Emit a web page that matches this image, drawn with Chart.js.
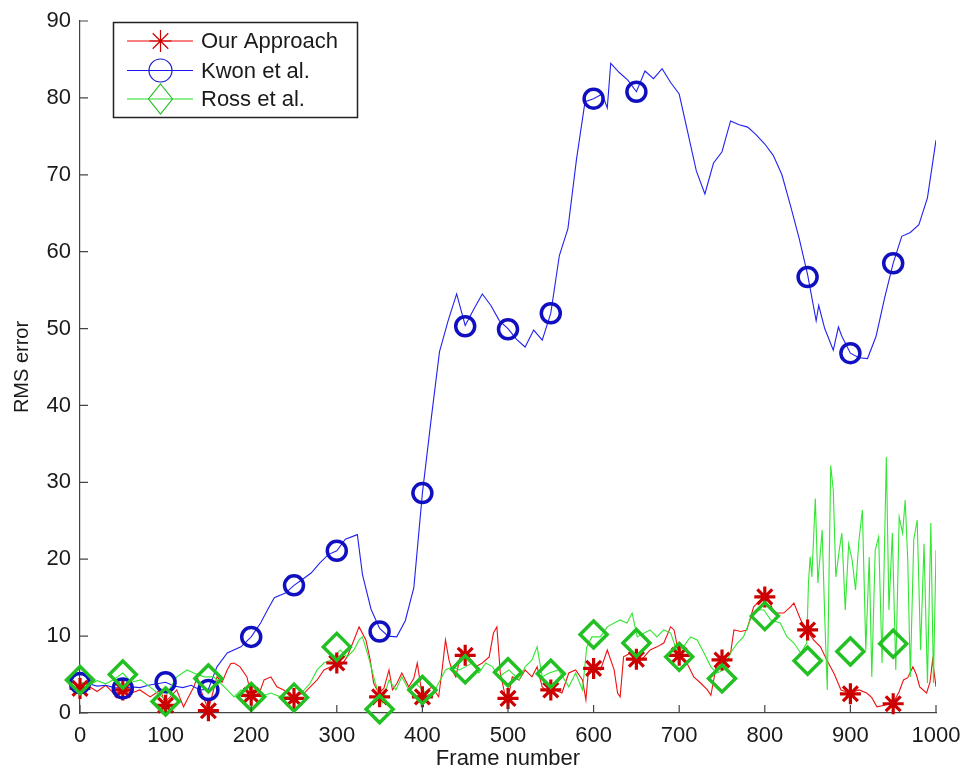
<!DOCTYPE html>
<html>
<head>
<meta charset="utf-8">
<script src="https://cdn.jsdelivr.net/npm/chart.js@4.4.0/dist/chart.umd.min.js"></script>
<style>
body{margin:0;background:#fff;}
canvas{display:block;}
</style>
</head>
<body>
<canvas id="rmsChart" width="963" height="772"></canvas>
<script>

// series (frame number -> RMS error)
let ourFrames = [0,10,20,30,40,50,60,70,82,94,100,102,113,121,125,133,137,141,150,160,166,172,176,180,187,195,200,203,209,215,223,230,238,245,250,256,262,269,277,285,293,300,304,312,320,326,334,339,343,349,355,361,365,370,376,384,390,394,400,405,411,419,423,427,431,435,439,446,450,454,462,470,478,483,487,491,497,500,505,513,520,528,534,540,548,550,555,563,571,579,587,591,594,600,608,616,624,628,631,635,643,651,659,666,674,682,690,694,700,709,717,725,733,737,744,752,760,764,772,779,787,795,803,811,822,830,834,842,849,857,865,872,881,889,900,910,919,925,931,940,950,957,962,967,973,977,981,989,993,996,1000];
let ourValues = [3.2,3.5,2.8,3.6,2.5,3.0,2.6,3.0,2.1,3.0,1.0,1.7,3.0,0.8,1.7,3.4,4.7,3.0,0.4,4.7,4.0,5.6,6.4,6.5,6.0,4.7,2.3,3.0,2.4,4.3,4.7,3.4,3.0,2.2,1.9,2.4,2.6,3.4,4.3,5.6,6.0,6.5,6.0,7.3,9.5,11.2,9.5,6.9,3.9,2.6,3.2,5.6,3.0,3.8,5.2,3.4,4.5,6.5,2.1,2.8,3.4,2.1,5.6,9.5,6.9,5.5,4.7,8.2,7.5,7.3,6.0,6.5,7.3,10.4,11.2,5.2,2.1,1.9,4.7,4.3,5.6,4.7,6.0,3.4,2.6,3.0,3.0,2.6,5.2,5.6,4.3,1.7,5.6,6.0,5.6,8.2,5.6,2.6,2.1,7.3,7.8,6.5,7.3,8.2,8.6,9.1,11.2,10.8,7.5,6.5,4.7,3.9,3.0,2.3,6.5,6.9,7.8,10.8,10.6,10.8,13.8,14.7,15.1,13.0,13.0,13.8,14.3,12.1,10.8,9.5,8.6,7.0,5.1,3.0,2.6,3.0,2.6,2.0,0.8,1.0,1.3,2.8,4.3,4.6,6.0,5.0,3.4,2.6,4.0,6.9,3.4];

let kwonFrames = [0,10,20,30,40,50,60,70,80,90,100,110,120,130,140,150,160,172,188,200,211,219,227,240,250,260,270,280,290,300,310,324,330,340,350,360,370,380,390,400,410,420,430,440,450,460,470,480,490,500,510,520,530,540,550,560,570,580,590,600,610,616,620,630,640,650,660,670,680,690,700,710,720,730,740,750,760,770,780,790,800,810,820,830,840,850,860,863,870,880,886,890,900,910,920,930,940,950,960,970,980,990,1000];
let kwonValues = [3.9,3.8,3.5,3.6,3.3,3.2,3.4,3.3,3.6,3.8,4.0,3.5,3.3,3.6,3.0,3.1,6.0,7.8,8.6,9.9,11.7,13.4,15.0,15.6,16.6,17.4,18.2,19.5,20.6,21.1,22.6,23.2,18.0,13.5,11.0,10.0,9.9,12.0,16.3,28.6,38.0,47.0,51.0,54.5,50.4,52.5,54.5,53.0,51.0,50.0,48.6,47.6,49.8,48.5,52.0,59.5,63.0,72.0,79.5,79.9,80.5,78.7,84.5,83.3,82.3,80.8,83.5,82.5,83.8,82.0,80.5,75.5,70.5,67.5,71.5,73.0,77.0,76.5,76.2,75.2,74.0,72.5,70.0,66.0,61.8,57.0,51.0,53.0,50.0,47.2,50.2,49.0,46.8,46.2,46.1,49.0,54.0,58.5,62.0,62.5,63.5,67.0,74.5];

let rossFrames = [0,10,20,30,40,50,60,71,86,100,102,113,125,133,145,150,156,164,172,180,188,195,203,211,223,234,250,262,269,277,285,293,304,312,320,326,330,337,345,353,361,369,376,384,392,400,411,419,427,435,443,450,458,466,474,482,489,501,513,520,528,534,540,548,559,571,579,587,592,598,608,616,624,631,639,645,651,659,666,674,682,690,698,705,713,721,729,737,744,752,760,768,775,783,791,799,807,818,826,834,842,849,851,853,855,859,862,867,870,873,877,880,883,887,890,894,898,902,906,910,914,918,922,925,929,933,937,942,945,949,953,957,961,964,967,970,974,978,982,986,990,994,997,1000];
let rossValues = [4.0,3.6,4.2,3.8,4.4,5.2,4.0,4.3,3.0,1.7,2.6,4.7,5.6,5.2,4.7,4.7,4.7,3.9,3.0,2.1,3.0,1.7,2.3,2.1,2.6,2.1,2.1,3.0,3.9,5.6,6.5,6.9,8.2,7.3,8.2,9.5,9.9,7.3,3.9,1.3,4.3,3.0,4.7,3.0,3.9,3.0,2.1,3.9,5.6,6.0,5.6,6.0,6.5,5.2,6.5,6.0,4.7,5.6,4.3,6.0,6.9,8.6,4.7,5.2,5.6,3.4,5.2,3.0,8.6,9.9,9.9,11.2,11.7,12.1,11.7,13.0,9.9,10.4,10.8,9.9,10.8,10.4,7.8,8.6,9.9,9.5,7.8,6.0,5.2,5.6,7.8,9.1,9.9,12.1,13.4,13.4,12.1,11.7,9.9,9.1,7.8,9.1,16.9,20.3,17.7,27.9,16.9,23.8,12.5,3.0,32.2,29.0,17.7,21.2,23.4,13.4,22.0,19.9,16.0,22.5,26.4,8.2,20.3,4.7,21.2,22.9,6.5,33.3,13.4,23.4,5.6,25.5,23.4,27.7,19.9,4.7,22.5,25.1,8.2,22.0,3.9,24.7,3.9,21.2];

// markers every 50 frames (no Kwon markers at 700-800)
let markerFrames = [0,50,100,150,200,250,300,350,400,450,500,550,600,650,700,750,800,850,900,950];
let ourMarks  = [3.2,3.0,1.0,0.3,2.3,1.9,6.5,2.1,2.1,7.5,1.9,3.0,5.8,7.0,7.5,6.9,15.1,10.8,2.5,1.2];
let kwonMarks = [3.9,3.2,4.0,3.0,9.9,16.6,21.1,10.6,28.6,50.3,49.9,52.0,79.9,80.8,null,null,null,56.7,46.8,58.5];
let rossMarks = [4.3,5.0,1.5,4.5,2.1,2.0,8.6,0.5,3.0,5.7,5.3,5.1,10.2,9.1,7.3,4.5,12.6,6.8,8.0,9.0];

let xTickValues = [0,100,200,300,400,500,600,700,800,900,1000];
let yTickValues = [0,10,20,30,40,50,60,70,80,90];

let seriesNames = ['Our Approach','Kwon et al.','Ross et al.'];

function toPoints(frames, values){
  return frames.map(function(f,i){ return {x:f, y:values[i]}; });
}

const fontFamily = '"Liberation Sans", Arial, Helvetica, sans-serif';

// ticks pointing into the plot, like the original figure
const inwardTicks = {
  id: 'inwardTicks',
  afterDraw(chart){
    const c = chart.ctx, a = chart.chartArea;
    const xs = chart.scales.x, ys = chart.scales.y;
    c.save();
    c.strokeStyle = '#444';
    c.lineWidth = 1.2;
    c.beginPath();
    xTickValues.forEach(function(v){
      let px = xs.getPixelForValue(v);
      c.moveTo(px, a.bottom); c.lineTo(px, a.bottom - 8);
    });
    yTickValues.forEach(function(v){
      let py = ys.getPixelForValue(v);
      c.moveTo(a.left, py); c.lineTo(a.left + 8, py);
    });
    c.stroke();
    c.restore();
  }
};

function drawMarker(c, kind, x, y, color){
  c.strokeStyle = color;
  c.lineWidth = 1.2;
  c.beginPath();
  if(kind === 'star'){
    let r = 11;
    c.moveTo(x - r, y); c.lineTo(x + r, y);
    c.moveTo(x, y - r); c.lineTo(x, y + r);
    let d = r * 0.707;
    c.moveTo(x - d, y - d); c.lineTo(x + d, y + d);
    c.moveTo(x - d, y + d); c.lineTo(x + d, y - d);
  } else if(kind === 'circle'){
    c.arc(x, y, 11.5, 0, Math.PI * 2);
  } else {
    let r = 15;
    c.moveTo(x, y - r); c.lineTo(x + 12, y); c.lineTo(x, y + r); c.lineTo(x - 12, y); c.closePath();
  }
  c.stroke();
}

// boxed legend in the top-left corner
const boxLegend = {
  id: 'boxLegend',
  afterDraw(chart){
    const c = chart.ctx;
    const rows = [
      {name: seriesNames[0], line: '#ee0000', mark: '#cc0000', kind: 'star', y: 41},
      {name: seriesNames[1], line: '#1a1aee', mark: '#1a1acc', kind: 'circle', y: 70.5},
      {name: seriesNames[2], line: '#22dd22', mark: '#22c022', kind: 'diamond', y: 99}
    ];
    c.save();
    c.fillStyle = '#fff';
    c.fillRect(113.5, 22.5, 244, 95);
    c.strokeStyle = '#222';
    c.lineWidth = 1.5;
    c.strokeRect(113.5, 22.5, 244, 95);
    rows.forEach(function(r){
      c.strokeStyle = r.line;
      c.lineWidth = 1;
      c.beginPath();
      c.moveTo(127, r.y); c.lineTo(193, r.y);
      c.stroke();
      drawMarker(c, r.kind, 160.5, r.y, r.mark);
      c.fillStyle = '#1a1a1a';
      c.font = '22px ' + fontFamily;
      c.textAlign = 'left';
      c.textBaseline = 'middle';
      c.fillText(r.name, 201, r.y + 1);
    });
    c.restore();
  }
};

const ctx = document.getElementById('rmsChart').getContext('2d');

const rmsChart = new Chart(ctx, {
  type: 'line',
  data: {
    datasets: [
      {label: seriesNames[2] + ' markers', data: toPoints(markerFrames, rossMarks), showLine: false,
       pointStyle: 'rectRot', pointRadius: 13.5, pointBorderWidth: 3.5, pointBorderColor: '#22c022',
       pointBackgroundColor: 'rgba(0,0,0,0)', clip: false, order: 0},
      {label: seriesNames[1] + ' markers', data: toPoints(markerFrames, kwonMarks), showLine: false,
       pointStyle: 'circle', pointRadius: 9.5, pointBorderWidth: 3.5, pointBorderColor: '#1010c0',
       pointBackgroundColor: 'rgba(0,0,0,0)', clip: false, order: 1},
      {label: seriesNames[0] + ' markers', data: toPoints(markerFrames, ourMarks), showLine: false,
       pointStyle: 'star', pointRadius: 10.5, pointBorderWidth: 3.2, pointBorderColor: '#cc0000',
       pointBackgroundColor: 'rgba(0,0,0,0)', clip: false, order: 2},
      {label: seriesNames[2], data: toPoints(rossFrames, rossValues), borderColor: '#33e633',
       borderWidth: 1.1, pointRadius: 0, tension: 0, order: 3},
      {label: seriesNames[1], data: toPoints(kwonFrames, kwonValues), borderColor: '#2222ee',
       borderWidth: 1.1, pointRadius: 0, tension: 0, order: 4},
      {label: seriesNames[0], data: toPoints(ourFrames, ourValues), borderColor: '#ee1111',
       borderWidth: 1.1, pointRadius: 0, tension: 0, order: 5}
    ]
  },
  options: {
    responsive: false,
    animation: false,
    devicePixelRatio: 1,
    layout: {padding: {top: 21, right: 27, bottom: 0, left: 0}},
    plugins: {
      legend: {display: false},
      tooltip: {enabled: false}
    },
    scales: {
      x: {
        type: 'linear',
        min: 0, max: 1000,
        afterBuildTicks: function(s){ s.ticks = xTickValues.map(function(v){ return {value: v}; }); },
        afterFit: function(s){ s.height = 59; s.paddingLeft = 0; s.paddingRight = 0; },
        grid: {display: false, drawTicks: false},
        border: {display: true, color: '#444', width: 1.2},
        ticks: {padding: 10, color: '#1a1a1a', font: {family: fontFamily, size: 22},
                callback: function(v){ return String(v); }},
        title: {display: true, text: 'Frame number', color: '#1a1a1a', padding: {top: 0, bottom: 0},
                font: {family: fontFamily, size: 22}}
      },
      y: {
        min: 0, max: 90,
        afterBuildTicks: function(s){ s.ticks = yTickValues.map(function(v){ return {value: v}; }); },
        afterFit: function(s){ s.width = 80; s.paddingTop = 0; s.paddingBottom = 0; },
        grid: {display: false, drawTicks: false},
        border: {display: true, color: '#444', width: 1.2},
        ticks: {padding: 9, color: '#1a1a1a', font: {family: fontFamily, size: 22},
                callback: function(v){ return String(v); }},
        title: {display: true, text: 'RMS error', color: '#1a1a1a', padding: {top: 10, bottom: 0},
                font: {family: fontFamily, size: 20}}
      }
    }
  },
  plugins: [inwardTicks, boxLegend]
});

</script>
</body>
</html>
